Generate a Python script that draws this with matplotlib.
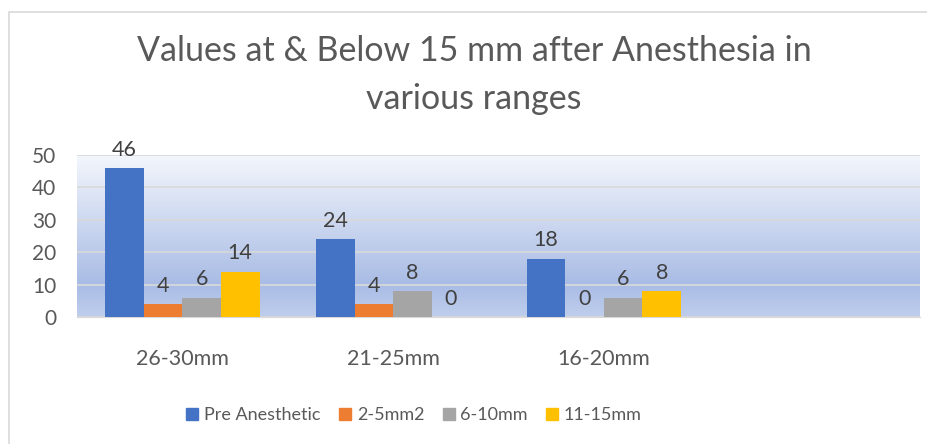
import matplotlib.pyplot as plt
import matplotlib.colors as mcolors
from matplotlib.patches import Rectangle
from matplotlib.lines import Line2D
import numpy as np

# datos
categorias = ['26-30mm', '21-25mm', '16-20mm', '']
series = ['Pre Anesthetic', '2-5mm2', '6-10mm', '11-15mm']
pre_anestesico = [46, 24, 18]
mm_2_5 = [4, 4, 0]
mm_6_10 = [6, 8, 6]
mm_11_15 = [14, 0, 8]
colores = ['#4472C4', '#ED7D31', '#A5A5A5', '#FFC000']
ticks_y = [0, 10, 20, 30, 40, 50]

texto = '#595959'
plt.rcParams['font.family'] = ['Lato', 'DejaVu Sans']

fig = plt.figure(figsize=(9.28, 4.44), dpi=100)
ax = fig.add_axes([77/928, 1-317/444, 843/928, 162/444])

# fondo degradado del area de trazado
grad = mcolors.LinearSegmentedColormap.from_list(
    'g', [(0, '#BFCEEC'), (0.2, '#A9BCE5'), (1, '#F3F6FC')])
ax.imshow(np.linspace(0, 1, 256).reshape(-1, 1), cmap=grad, origin='lower',
          aspect='auto', extent=(0, 1, 0, 1), transform=ax.transAxes, zorder=0)

valores = [pre_anestesico, mm_2_5, mm_6_10, mm_11_15]
x = np.arange(len(valores[0]))
ancho = 0.183
for i, (nombre, vals, c) in enumerate(zip(series, valores, colores)):
    barras = ax.bar(x + (i - 1.5)*ancho, vals, ancho, color=c, label=nombre, zorder=3)
    ax.bar_label(barras, padding=6, fontsize=15.5, color='#404040')

ax.set_xlim(-0.5, len(categorias) - 0.5)
ax.set_ylim(0, 50)
ax.set_xticks(np.arange(len(categorias)))
ax.set_xticklabels(categorias)
ax.set_yticks(ticks_y)
ax.tick_params(axis='both', length=0, labelcolor=texto)
ax.tick_params(axis='x', pad=23, labelsize=15.5)
ax.tick_params(axis='y', pad=15, labelsize=15)
ax.grid(axis='y', color='#D9D9D9', linewidth=1.2, zorder=1)
ax.set_axisbelow(True)
for s in ['top', 'right', 'left']:
    ax.spines[s].set_visible(False)
ax.spines['bottom'].set_color('#D9D9D9')

# titulo
fig.text(474/928, 1-75/444, 'Values at & Below 15 mm after Anesthesia in\nvarious ranges',
         ha='center', va='center', fontsize=24.5, color=texto, linespacing=1.62)

# borde exterior del grafico
fig.add_artist(Rectangle((9.5/928, -0.1), 1, 1.1 - 12.5/444, transform=fig.transFigure,
                         fill=False, edgecolor='#D9D9D9', linewidth=1.2))

# leyenda
manejadores = [Line2D([], [], marker='s', linestyle='', markersize=9, color=c) for c in colores]
fig.legend(manejadores, series, loc='center', bbox_to_anchor=(414/928, 1-415/444), ncol=4,
           frameon=False, fontsize=13, labelcolor=texto, handlelength=0.7,
           handletextpad=0.3, columnspacing=1.0)

fig.savefig('out.png', dpi=100)
